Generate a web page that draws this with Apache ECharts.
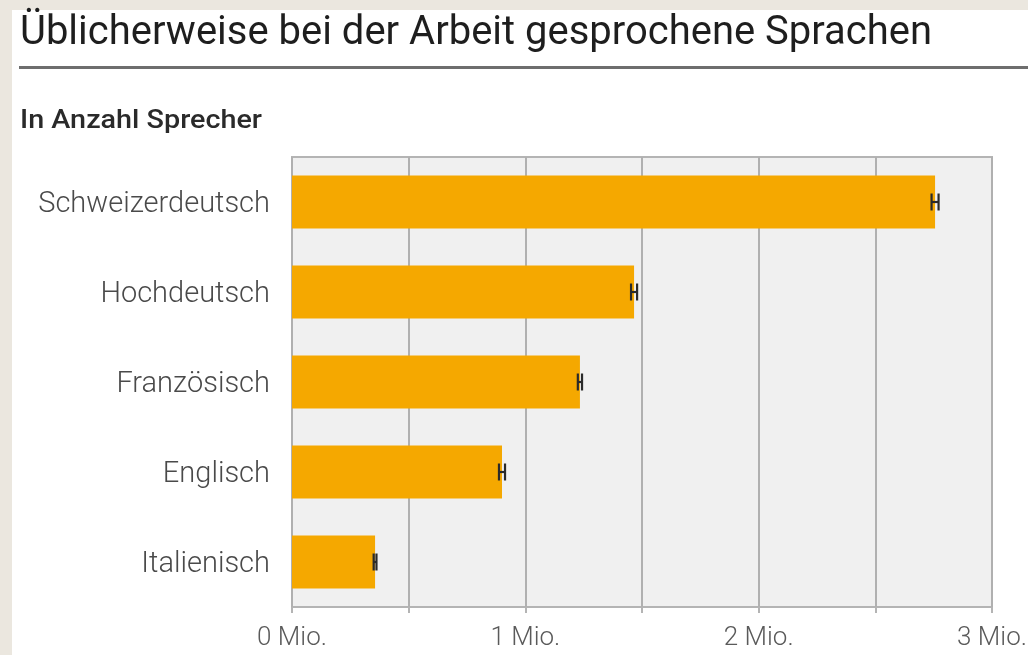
<!DOCTYPE html>
<html>
<head>
<meta charset="utf-8">
<script src="https://cdn.jsdelivr.net/npm/echarts@6/dist/echarts.min.js"></script>
<style>
html,body{margin:0;padding:0;background:#ebe7df;}
#c{width:1028px;height:655px;}
</style>
</head>
<body>
<div id="c"></div>
<script>
const categories = ['Schweizerdeutsch', 'Hochdeutsch', 'Französisch', 'Englisch', 'Italienisch'];
const values = [2.756, 1.466, 1.234, 0.900, 0.356];
const errLow = [2.741, 1.453, 1.225, 0.887, 0.350];
const errHigh = [2.771, 1.479, 1.243, 0.913, 0.362];
const tickLabels = {0: '0 Mio.', 1: '1 Mio.', 2: '2 Mio.', 3: '3 Mio.'};
const titleText = 'Üblicherweise bei der Arbeit gesprochene Sprachen';
const subtitleText = 'In Anzahl Sprecher';

function measure(text, font) {
  const cv = document.createElement('canvas').getContext('2d');
  cv.font = font;
  return cv.measureText(text).width;
}
const titleFont = 'normal 400 41px Roboto';
const subFont = 'normal 500 25px Roboto';
const titleScale = 912 / measure(titleText, titleFont);
const subScale = 242 / measure(subtitleText, subFont);

const chart = echarts.init(document.getElementById('c'), null, {renderer: 'canvas'});
const errData = categories.map((c, i) => [i, errLow[i], errHigh[i]]);

chart.setOption({
  backgroundColor: '#ebe7df',
  animation: false,
  graphic: [
    {type: 'rect', x: 12, y: 10, shape: {width: 1016, height: 645}, style: {fill: '#ffffff'}, z: -10},
    {type: 'rect', x: 19, y: 66, shape: {width: 1009, height: 3}, style: {fill: '#6e6e6e'}, z: 1},
    {type: 'text', x: 20, y: 13, scaleX: titleScale, z: 2,
     style: {text: titleText, font: titleFont, fill: '#1e1e1e', verticalAlign: 'top'}},
    {type: 'text', x: 20, y: 109, scaleX: subScale, z: 2,
     style: {text: subtitleText, font: subFont, fill: '#2a2a2a', verticalAlign: 'top'}}
  ],
  grid: {left: 292, right: 36, top: 157, bottom: 48, show: true, backgroundColor: '#f0f0f0', borderColor: '#b4b4b4', borderWidth: 2, containLabel: false, outerBoundsMode: 'none'},
  xAxis: {
    type: 'value', min: 0, max: 3, interval: 0.5,
    axisLine: {show: false},
    axisTick: {show: true, length: 6, lineStyle: {color: '#b4b4b4', width: 2}},
    splitLine: {show: true, lineStyle: {color: '#b0b0b0', width: 2}},
    axisLabel: {
      margin: 18, color: '#5a5a5a', fontSize: 26, fontFamily: 'Roboto', fontWeight: 300,
      formatter: v => (tickLabels[v] !== undefined ? tickLabels[v] : '')
    }
  },
  yAxis: {
    type: 'category', data: categories, inverse: true,
    axisLine: {show: false}, axisTick: {show: false},
    axisLabel: {
      margin: 22,
      formatter: v => '{a|' + v + '}',
      rich: {a: {color: '#4a4a4a', fontSize: 29, fontFamily: 'Roboto', fontWeight: 300, padding: [6, 0, 0, 0]}}
    }
  },
  series: [
    {type: 'bar', data: values, barWidth: 53, itemStyle: {color: '#f5a800'}, z: 2},
    {type: 'custom', z: 3, data: errData,
     renderItem: function (params, api) {
       const cat = api.value(0);
       const lo = api.coord([api.value(1), cat]);
       const hi = api.coord([api.value(2), cat]);
       const h = 8.5;
       const st = {stroke: '#2a2a2a', lineWidth: 2.2};
       return {type: 'group', children: [
         {type: 'line', shape: {x1: lo[0], y1: lo[1], x2: hi[0], y2: hi[1]}, style: st},
         {type: 'line', shape: {x1: lo[0], y1: lo[1] - h, x2: lo[0], y2: lo[1] + h}, style: st},
         {type: 'line', shape: {x1: hi[0], y1: hi[1] - h, x2: hi[0], y2: hi[1] + h}, style: st}
       ]};
     }
    }
  ]
});
</script>
</body>
</html>
